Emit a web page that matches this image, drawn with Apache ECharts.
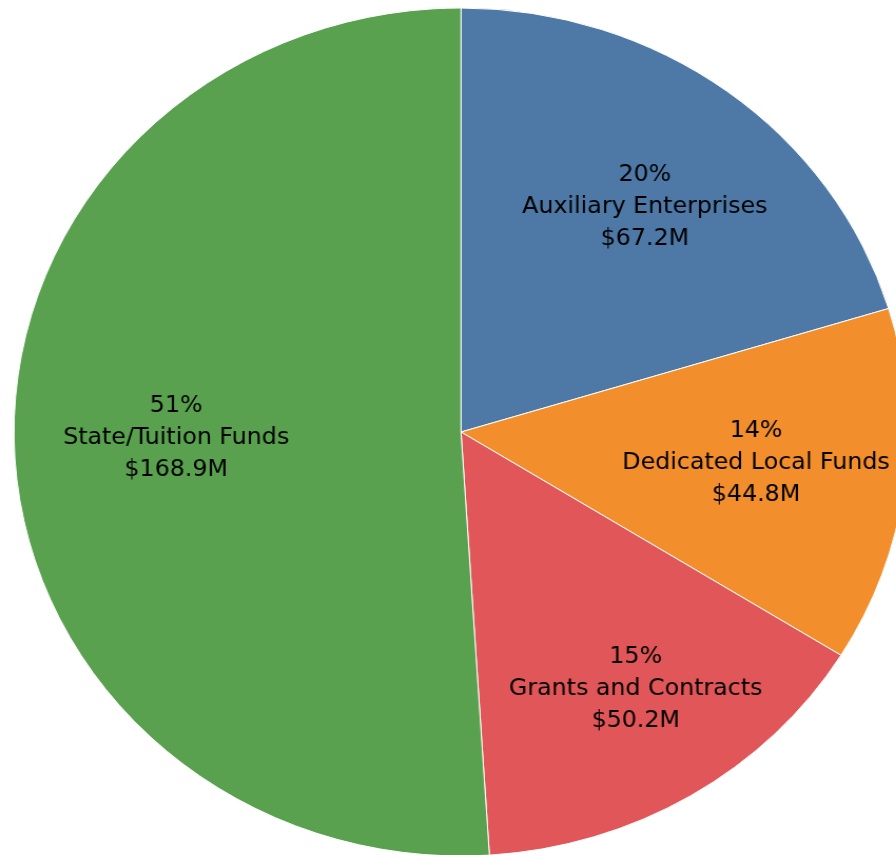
<!doctype html>
<html lang="en">
<head>
    <meta charset="utf-8"/>
    <title>Revenue by Fund Source</title>
    <script src="https://cdn.jsdelivr.net/npm/echarts@6/dist/echarts.min.js"></script>
    <style>
        html, body { margin: 0; padding: 0; background: #fff; overflow: hidden; }
        #wrap { width: 896px; height: 855px; overflow: hidden; position: relative; }
        /* the original pie is slightly wider than tall, so stretch the chart a bit */
        #chart { width: 850px; height: 855px; transform-origin: 0 0; transform: scaleX(1.0542); }
    </style>
</head>
<body>
<div id="wrap"><div id="chart"></div></div>
<script>
    var categories = ["Auxiliary Enterprises", "Dedicated Local Funds", "Grants and Contracts", "State/Tuition Funds"];
    var amounts = [67.2, 44.8, 50.2, 168.9];   // $M
    var percents = [20, 14, 15, 51];           // as printed on the slices
    var colors = ["#4e79a7", "#f28e2b", "#e15759", "#59a14f"];
    // small label nudges so they sit where the original put them
    var nudges = [[1, 9], [-9, -6], [16, 7], [21, -3]];

    var slices = [];
    var labelSlices = [];
    for (var i = 0; i < categories.length; i++) {
        slices.push({ name: categories[i], value: amounts[i], itemStyle: { color: colors[i] } });
        labelSlices.push({
            name: categories[i],
            value: amounts[i],
            pct: percents[i],
            label: { offset: nudges[i] }
        });
    }

    var chart = echarts.init(document.getElementById("chart"));
    var R = 424;
    var option = {
        animation: false,
        series: [
            {
                type: "pie",
                center: [437.3, 432],
                radius: [0, R],
                startAngle: 90,
                clockwise: true,
                silent: true,
                label: { show: false },
                labelLine: { show: false },
                itemStyle: { borderColor: "#ffffff", borderWidth: 1 },
                data: slices
            },
            {
                // transparent ring only used to place labels at ~0.68 of the radius
                type: "pie",
                center: [437.3, 432],
                radius: [R * 0.36, R],
                startAngle: 90,
                clockwise: true,
                silent: true,
                itemStyle: { color: "rgba(0,0,0,0)" },
                labelLine: { show: false },
                label: {
                    show: true,
                    position: "inside",
                    color: "#000",
                    fontFamily: "DejaVu Sans",
                    fontSize: 22.5,
                    lineHeight: 32,
                    formatter: function (p) {
                        return p.data.pct + "%\n" + p.name + "\n$" + p.value.toFixed(1) + "M";
                    }
                },
                data: labelSlices
            }
        ]
    };
    chart.setOption(option);
</script>
</body>
</html>
